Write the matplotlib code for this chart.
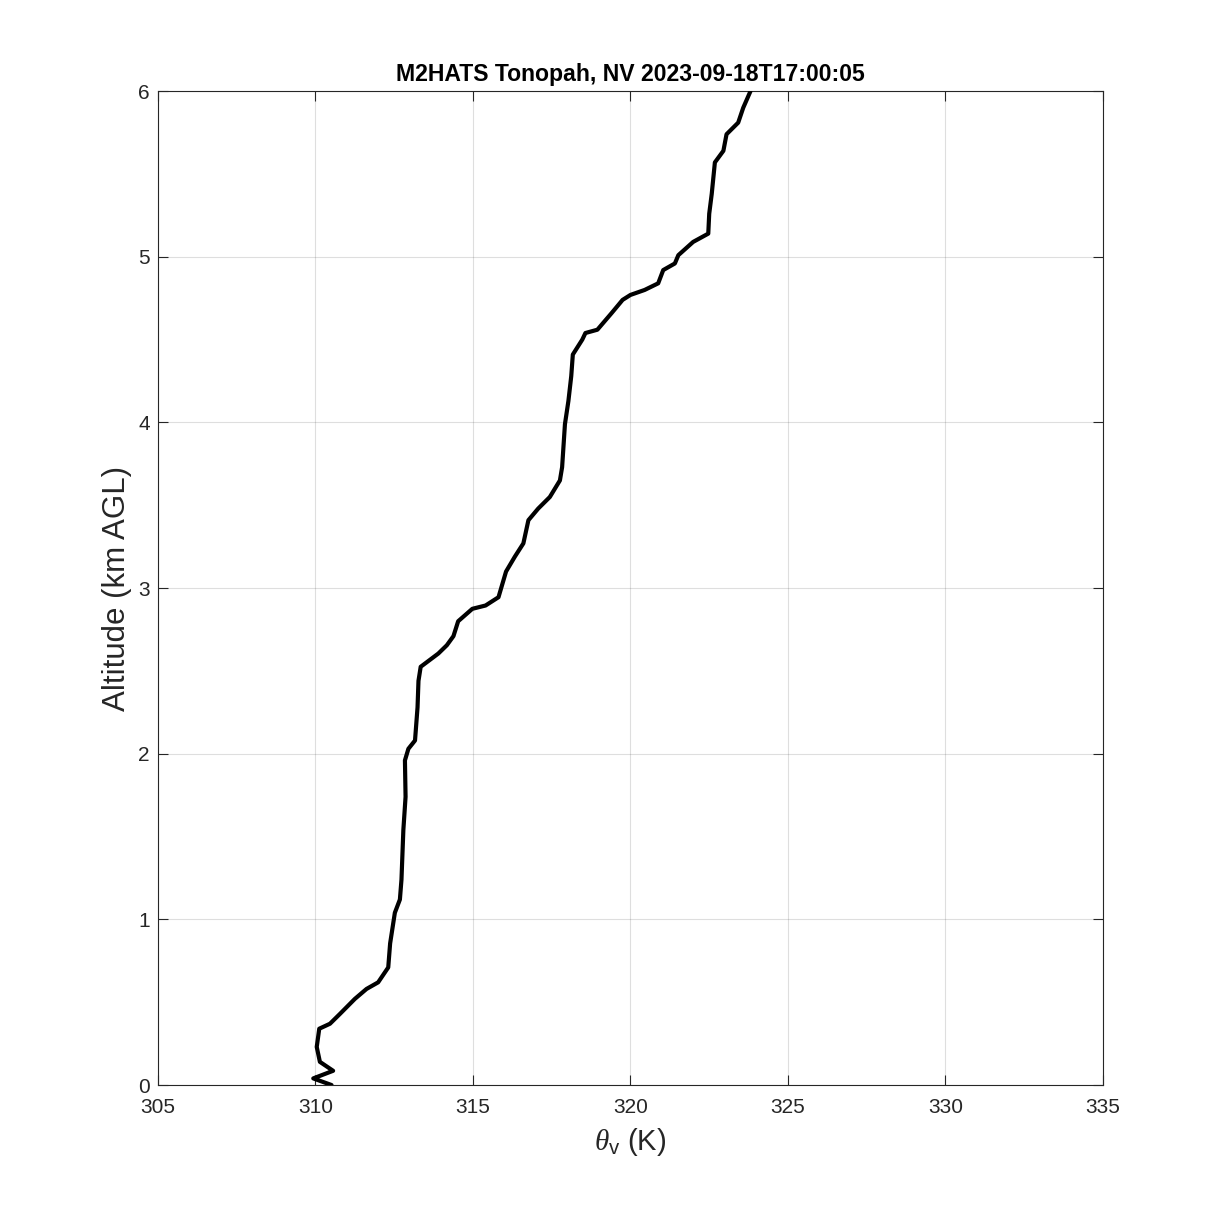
"""Virtual potential temperature profile, M2HATS Tonopah."""

import matplotlib

matplotlib.use("Agg")
import matplotlib.pyplot as plt

plt.rcParams["font.family"] = ["Liberation Sans", "DejaVu Sans"]
plt.rcParams["mathtext.fontset"] = "custom"
plt.rcParams["mathtext.rm"] = "Liberation Sans"
plt.rcParams["mathtext.it"] = "Liberation Serif:italic"

theta_v = [
    310.51, 309.93, 310.56, 310.14, 310.04, 310.12, 310.46, 310.78, 311.25,
    311.62, 311.99, 312.31, 312.37, 312.52, 312.68, 312.73, 312.79, 312.86,
    312.84, 312.95, 313.16, 313.24, 313.27, 313.34, 313.90, 314.17, 314.38,
    314.53, 314.98, 315.40, 315.81, 316.05, 316.33, 316.60, 316.76, 317.07,
    317.44, 317.76, 317.83, 317.92, 318.03, 318.12, 318.17, 318.47, 318.57,
    318.95, 319.40, 319.75, 320.00, 320.45, 320.88, 321.04, 321.41, 321.52,
    321.99, 322.47, 322.50, 322.58, 322.68, 322.95, 323.05, 323.42, 323.58,
    323.81,
]
alt_km = [
    0.00, 0.04, 0.086, 0.14, 0.23, 0.34, 0.37, 0.43, 0.52,
    0.58, 0.62, 0.71, 0.855, 1.04, 1.12, 1.24, 1.54, 1.74,
    1.96, 2.03, 2.08, 2.28, 2.44, 2.525, 2.605, 2.655, 2.71,
    2.80, 2.875, 2.895, 2.945, 3.10, 3.19, 3.27, 3.41, 3.48,
    3.55, 3.65, 3.73, 3.99, 4.13, 4.28, 4.41, 4.50, 4.54,
    4.56, 4.66, 4.74, 4.77, 4.80, 4.84, 4.92, 4.96, 5.01,
    5.09, 5.14, 5.26, 5.38, 5.57, 5.64, 5.74, 5.81, 5.90,
    6.00,
]
x_ticks = [305, 310, 315, 320, 325, 330, 335]
y_ticks = [0, 1, 2, 3, 4, 5, 6]

fig = plt.figure(figsize=(12.19, 12.19), dpi=100)
ax = fig.add_axes([0.1296, 0.1099, 0.7752, 0.8153])

ax.plot(theta_v, alt_km, color="black", linewidth=3.0,
        solid_joinstyle="round", solid_capstyle="round", zorder=3)

ax.set_xlim(305, 335)
ax.set_ylim(0, 6)
ax.set_xticks(x_ticks)
ax.set_yticks(y_ticks)
ax.grid(True, color="#262626", alpha=0.15, linewidth=0.8)
ax.set_axisbelow(True)
ax.tick_params(direction="in", top=True, right=True, length=7,
               width=0.8, labelsize=15, colors="#262626")
ax.tick_params(axis="x", pad=9)
ax.tick_params(axis="y", pad=6)
for sp in ax.spines.values():
    sp.set_color("#262626")
    sp.set_linewidth(0.8)

ax.set_xlabel(r"$\theta_{\rm v}$ (K)", fontsize=21, color="#262626",
              labelpad=7)
ax.set_ylabel("Altitude (km AGL)", fontsize=22.5, color="#262626",
              labelpad=4)
ax.set_title("M2HATS Tonopah, NV 2023-09-18T17:00:05", fontsize=16.6,
             fontweight="bold", pad=7)

fig.savefig("out.png", dpi=100)
plt.close(fig)
